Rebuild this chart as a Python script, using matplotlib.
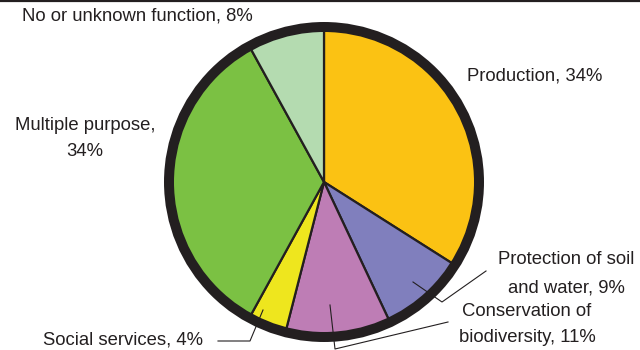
import matplotlib
matplotlib.use("Agg")
import matplotlib.pyplot as plt
from matplotlib.patches import Circle

# Data
categories = ["Production", "Protection of soil and water", "Conservation of biodiversity",
              "Social services", "Multiple purpose", "No or unknown function"]
values = [34, 9, 11, 4, 34, 8]
colors = ["#FBC213", "#807FBD", "#BE7DB5", "#EEE61E", "#7BC143", "#B4DBB0"]

H = 350
def Y(y):
    return H - y

fig = plt.figure(figsize=(6.4, 3.5), dpi=100)
ax = fig.add_axes([0, 0, 1, 1])
plt.rcParams['font.family'] = ['Liberation Sans', 'DejaVu Sans']

cx, cy, r = 324, Y(182), 155
ax.pie(values, colors=colors, startangle=90, counterclock=False,
       center=(cx, cy), radius=r,
       wedgeprops=dict(edgecolor="#231F20", linewidth=1.6))
ax.add_patch(Circle((cx, cy), r, fill=False, edgecolor="#231F20", linewidth=7.2, zorder=5))

ax.set_xlim(0, 640)
ax.set_ylim(0, H)
ax.set_aspect('equal')
ax.axis('off')

# top rule
ax.plot([0, 640], [Y(0.8), Y(0.8)], color="#231F20", lw=1.6, clip_on=False)

fs = 13.3
tc = "#231F20"
ax.text(22, Y(16), "No or unknown function, 8%", fontsize=fs, color=tc, ha='left', va='center')
ax.text(85, Y(125), "Multiple purpose,", fontsize=fs, color=tc, ha='center', va='center')
ax.text(85, Y(152), "34%", fontsize=fs, color=tc, ha='center', va='center')
ax.text(467, Y(76), "Production, 34%", fontsize=fs, color=tc, ha='left', va='center')
ax.text(566, Y(260), "Protection of soil", fontsize=fs, color=tc, ha='center', va='center')
ax.text(566, Y(288), "and water, 9%", fontsize=fs, color=tc, ha='center', va='center')
ax.text(527, Y(312), "Conservation of", fontsize=fs, color=tc, ha='center', va='center')
ax.text(527, Y(338), "biodiversity, 11%", fontsize=fs, color=tc, ha='center', va='center')
ax.text(43, Y(340), "Social services, 4%", fontsize=fs, color=tc, ha='left', va='center')

# leader lines
lw = 0.8
ax.plot([413, 442, 486], [Y(282), Y(302), Y(271)], color=tc, lw=lw, zorder=6)
ax.plot([330, 335, 448], [Y(305), Y(349), Y(322)], color=tc, lw=lw, zorder=6, clip_on=False)
ax.plot([218, 250, 263], [Y(341), Y(341), Y(310)], color=tc, lw=lw, zorder=6)

fig.savefig("out.png", dpi=100)
